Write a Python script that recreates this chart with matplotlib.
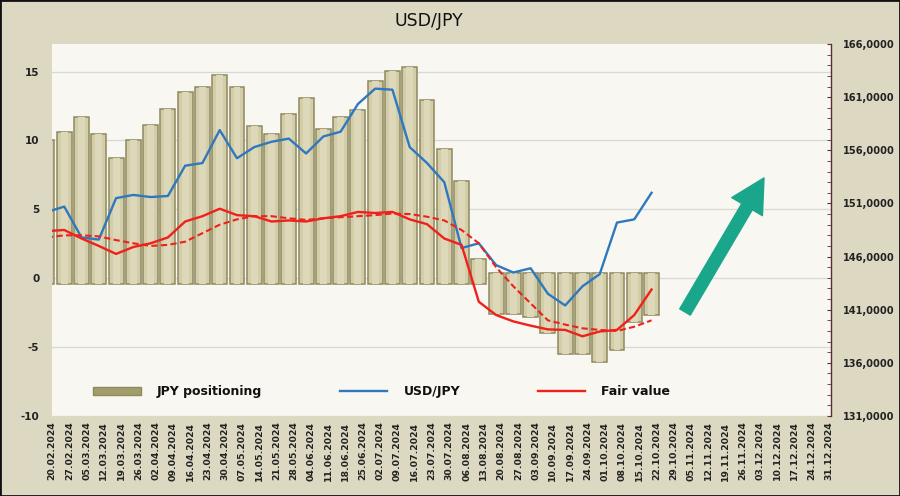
import matplotlib
matplotlib.use("Agg")
import matplotlib.pyplot as plt
import numpy as np
from matplotlib.patches import Rectangle
from matplotlib.lines import Line2D
from matplotlib.ticker import MultipleLocator, FuncFormatter

plt.rcParams["axes.unicode_minus"] = False

dates = ["20.02.2024", "27.02.2024", "05.03.2024", "12.03.2024", "19.03.2024", "26.03.2024",
         "02.04.2024", "09.04.2024", "16.04.2024", "23.04.2024", "30.04.2024", "07.05.2024",
         "14.05.2024", "21.05.2024", "28.05.2024", "04.06.2024", "11.06.2024", "18.06.2024",
         "25.06.2024", "02.07.2024", "09.07.2024", "16.07.2024", "23.07.2024", "30.07.2024",
         "06.08.2024", "13.08.2024", "20.08.2024", "27.08.2024", "03.09.2024", "10.09.2024",
         "17.09.2024", "24.09.2024", "01.10.2024", "08.10.2024", "15.10.2024", "22.10.2024",
         "29.10.2024", "05.11.2024", "12.11.2024", "19.11.2024", "26.11.2024", "03.12.2024",
         "10.12.2024", "17.12.2024", "24.12.2024", "31.12.2024"]

jpy_positioning = [10.0, 10.6, 11.7, 10.5, 8.7, 10.0, 11.1, 12.3, 13.5, 13.9, 14.75, 13.9,
                   11.05, 10.5, 11.9, 13.1, 10.85, 11.7, 12.2, 14.3, 15.07, 15.3, 12.9, 9.4,
                   7.05, 1.4, -2.6, -2.6, -2.8, -4.0, -5.5, -5.5, -6.1, -5.2, -3.15, -2.7]

usdjpy = [150.2, 150.7, 147.8, 147.6, 151.5, 151.8, 151.6, 151.7, 154.55, 154.8, 157.9, 155.25,
          156.3, 156.8, 157.1, 155.7, 157.3, 157.75, 160.35, 161.8, 161.7, 156.3, 154.8, 153.0,
          146.8, 147.25, 145.2, 144.5, 144.9, 142.5, 141.4, 143.2, 144.35, 149.2, 149.5, 152.0]

fair_value = [148.4, 148.5, 147.7, 147.0, 146.25, 146.9, 147.25, 147.8, 149.3, 149.8, 150.5, 149.9,
              149.8, 149.3, 149.4, 149.3, 149.6, 149.8, 150.2, 150.1, 150.2, 149.5, 149.05, 147.7,
              147.1, 141.75, 140.5, 139.9, 139.5, 139.15, 139.1, 138.5, 138.95, 139.1, 140.5, 142.9]

fair_value_avg = [147.8, 148.0, 148.0, 147.9, 147.55, 147.25, 147.0, 147.1, 147.4, 148.2, 149.0, 149.5,
                  149.8, 149.8, 149.6, 149.45, 149.6, 149.7, 149.8, 149.9, 150.05, 150.0, 149.75, 149.4,
                  148.5, 147.25, 145.0, 143.2, 141.6, 140.0, 139.6, 139.25, 139.1, 139.0, 139.4, 140.0]

BG = "#dcd8c1"
PLOT_BG = "#f8f7f1"
BAR_FACE = "#d3cea8"
BAR_EDGE = "#8e8960"
BLUE = "#2f78bf"
RED = "#f0201a"
TEAL = "#1aa68a"

fig = plt.figure(figsize=(9, 4.96), dpi=100, facecolor=BG)
ax = fig.add_axes([52/900, 80/496, 779/900, 372/496])
ax.set_facecolor(PLOT_BG)
ax2 = ax.twinx()

n = len(jpy_positioning)
x = np.arange(n)
tick_off = 0.29

# bars (left axis)
vals = np.array(jpy_positioning)
base = np.where(vals > 0, -0.4, 0.35)
ax.bar(x, vals - base, bottom=base, width=0.86, color=BAR_FACE, edgecolor=BAR_EDGE,
       linewidth=1.1, zorder=2)
ax.bar(x, vals - base, bottom=base, width=0.4, color="#dcd8b9", edgecolor="none",
       linewidth=0, zorder=2.1)

ax.set_ylim(-10, 17)
ax.set_yticks([-10, -5, 0, 5, 10, 15])
ax.yaxis.grid(True, color="#d8d8d4", linewidth=0.9, zorder=0)
ax.set_axisbelow(True)
ax.set_xlim(tick_off, 45.1 + tick_off)
ax.set_xticks(np.arange(len(dates)) + tick_off)
ax.set_xticklabels(dates, rotation=90, fontsize=6.7, fontweight="bold", color="#222222")
ax.tick_params(axis="x", length=0, pad=4)
ax.tick_params(axis="y", length=0, pad=9, labelsize=7.5, labelcolor="#222222")
for lab in ax.get_yticklabels():
    lab.set_fontweight("bold")
for s in ["left", "top", "bottom", "right"]:
    ax.spines[s].set_visible(False)

# lines (right axis)
ax2.plot(x, usdjpy, color=BLUE, linewidth=1.7, zorder=3)
ax2.plot(x, fair_value, color=RED, linewidth=1.7, zorder=3)
ax2.plot(x, fair_value_avg, color=RED, linewidth=1.5, linestyle=(0, (3, 1.6)), zorder=3)
ax2.set_ylim(131, 166)
ax2.set_yticks(np.arange(131, 167, 5))
ax2.yaxis.set_minor_locator(MultipleLocator(1))
ax2.yaxis.set_major_formatter(FuncFormatter(lambda v, p: f"{v:.4f}".replace(".", ",")))
ax2.tick_params(axis="y", which="both", direction="in", length=3, color="#5a2f2f",
                labelsize=7.1, pad=8.5, labelcolor="#222222")
for lab in ax2.get_yticklabels():
    lab.set_fontweight("bold")
for s in ["left", "top", "bottom"]:
    ax2.spines[s].set_visible(False)
ax2.spines["right"].set_color("#5a2f2f")
ax2.spines["right"].set_linewidth(1.0)

# legend
handles = [Rectangle((0, 0), 1, 1, facecolor="#a39d6c", edgecolor="#8e8960"),
           Line2D([], [], color=BLUE, linewidth=1.7),
           Line2D([], [], color=RED, linewidth=1.7)]
labels = ["JPY positioning", "USD/JPY", "Fair value"]
leg = ax2.legend(handles, labels, ncol=3, loc="center left", bbox_to_anchor=(0.045, 0.065),
                 frameon=False, prop={"size": 9, "weight": "bold"}, handlelength=3.8,
                 handleheight=0.55, handletextpad=1.3, columnspacing=6.2, borderpad=0)
for t in leg.get_texts():
    t.set_color("#111111")

# arrow
ax2.annotate("", xy=(0.914, 0.64), xytext=(0.8126, 0.2796), xycoords="axes fraction",
             textcoords="axes fraction",
             arrowprops=dict(arrowstyle="simple,head_length=1.5,head_width=1.6,tail_width=0.55",
                             color=TEAL, mutation_scale=16, shrinkA=0, shrinkB=0))

fig.text(0.476, 0.958, "USD/JPY", ha="center", va="center", fontsize=12.5, color="#111111")
fig.patches.append(Rectangle((0, 0), 1, 1, transform=fig.transFigure, fill=False,
                             edgecolor="#111111", linewidth=2))

fig.savefig("out.png", dpi=100, facecolor=BG)
